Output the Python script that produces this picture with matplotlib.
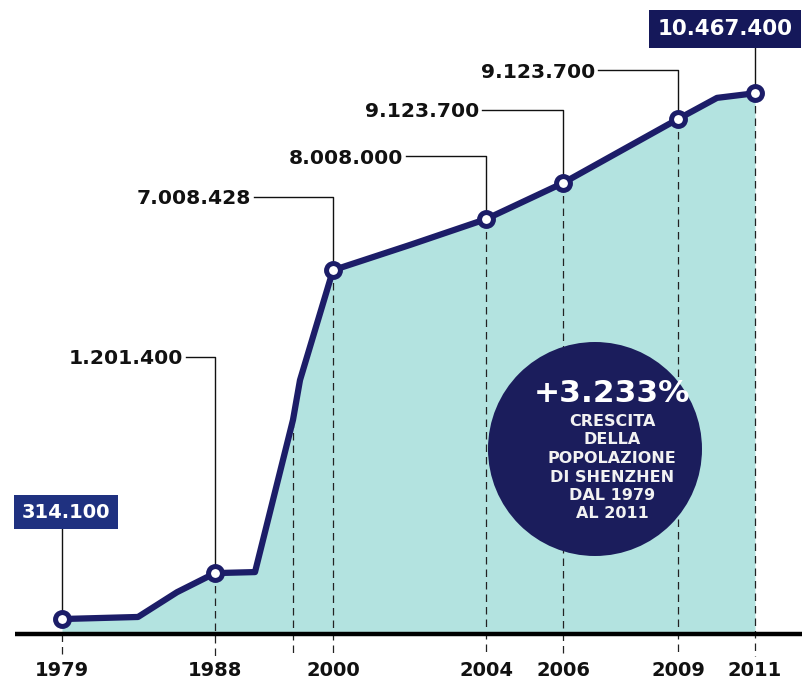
import matplotlib.pyplot as plt
from matplotlib.patches import Ellipse

plt.rcParams["font.family"] = ["DejaVu Sans"]

# labelled years, where they sit along the axis, population (millions) as drawn
years = ["1979", "1988", "2000", "2004", "2006", "2009", "2011"]
year_pos = [62, 215, 333, 486, 563, 678, 755]
pop_mln = [0.29, 1.18, 7.05, 8.04, 8.74, 9.98, 10.48]
value_labels = ["314.100", "1.201.400", "7.008.428", "8.008.000",
                "9.123.700", "9.123.700", "10.467.400"]

# full line, including the unlabelled bends
line_pos = [62, 138, 177, 215, 255, 293, 300, 333, 410, 486, 563, 678, 717, 755]
line_mln = [0.29, 0.33, 0.81, 1.18, 1.20, 4.15, 4.92, 7.05, 7.54, 8.04,
            8.74, 9.98, 10.39, 10.48]

# extra unlabelled dashed guide
guide_pos = 293
guide_mln = 4.15

growth = "+3.233%"
growth_text = ["CRESCITA", "DELLA", "POPOLAZIONE", "DI SHENZHEN", "DAL 1979", "AL 2011"]

navy = "#1c1d68"
fill_col = "#b3e3e0"

PX = 51.6   # pixels per million
BASE = 634  # pixel row of the axis

fig = plt.figure(figsize=(8.05, 6.79), dpi=100)
ax = fig.add_axes([0, 0, 1, 1])
ax.set_xlim(0, 805)
ax.set_ylim((BASE - 679) / PX, BASE / PX)
ax.axis("off")

ax.fill_between(line_pos, line_mln, 0, color=fill_col, lw=0, zorder=1)

# dashed guides
dash_bottom = -0.42
for i, (p, v) in enumerate(zip(year_pos, pop_mln)):
    top = 0 if i == 0 else v
    ax.plot([p, p], [top, dash_bottom], color="#222222", lw=0.9,
            ls=(0, (6, 4)), zorder=2)
ax.plot([guide_pos, guide_pos], [guide_mln, dash_bottom], color="#222222",
        lw=0.9, ls=(0, (6, 4)), zorder=2)

ax.plot([15, 802], [0, 0], color="black", lw=3.2, solid_capstyle="butt", zorder=3)

ax.plot(line_pos, line_mln, color=navy, lw=4.5, solid_joinstyle="round", zorder=4)
ax.plot(year_pos, pop_mln, "o", ms=10, mfc="white", mec=navy, mew=3.6, zorder=5)

# year labels
for p, y in zip(year_pos, years):
    ax.text(p, -0.66, y, ha="center", va="center_baseline", fontsize=14,
            fontweight="bold", color="#111111")

# labels with leaders (1988 .. 2009)
label_right = [183, 251, 403, 479, 595]
label_y = [5.37, 8.47, 9.26, 10.16, 10.93]
for k, idx in enumerate(range(1, 6)):
    xr, ly = label_right[k], label_y[k]
    ax.text(xr, ly, value_labels[idx], ha="right", va="center_baseline",
            fontsize=14.6, fontweight="bold", color="#111111", zorder=6)
    ax.plot([xr + 3, year_pos[idx], year_pos[idx]], [ly, ly, pop_mln[idx]],
            color="#111111", lw=1.0, zorder=2)

# boxed first and last values
ax.plot([year_pos[0], year_pos[0]], [2.2, pop_mln[0]], color="#111111", lw=1.0, zorder=2)
ax.text(66, 2.40, value_labels[0], ha="center", va="center_baseline", fontsize=14,
        fontweight="bold", color="white", zorder=6,
        bbox=dict(boxstyle="square,pad=0.38", fc="#1f3180", ec="none"))
ax.plot([year_pos[-1], year_pos[-1]], [11.5, pop_mln[-1]], color="#111111", lw=1.0, zorder=2)
ax.text(725, 11.76, value_labels[-1], ha="center", va="center_baseline", fontsize=15.4,
        fontweight="bold", color="white", zorder=6,
        bbox=dict(boxstyle="square,pad=0.42", fc="#15185a", ec="none"))

# growth bubble
cy = (BASE - 449) / PX
ax.add_patch(Ellipse((595, cy), 214, 214 / PX, fc="#1b1d5c", ec="none", zorder=7))
ax.text(612, (BASE - 390) / PX, growth, ha="center", va="center_baseline",
        fontsize=22.5, fontweight="bold", color="white", zorder=8)
for i, t in enumerate(growth_text):
    ax.text(612, (BASE - 420 - i * 18.5) / PX, t, ha="center", va="center_baseline",
            fontsize=11.5, fontweight="bold", color="#f2f2f2", zorder=8)

fig.savefig("out.png", dpi=100)
